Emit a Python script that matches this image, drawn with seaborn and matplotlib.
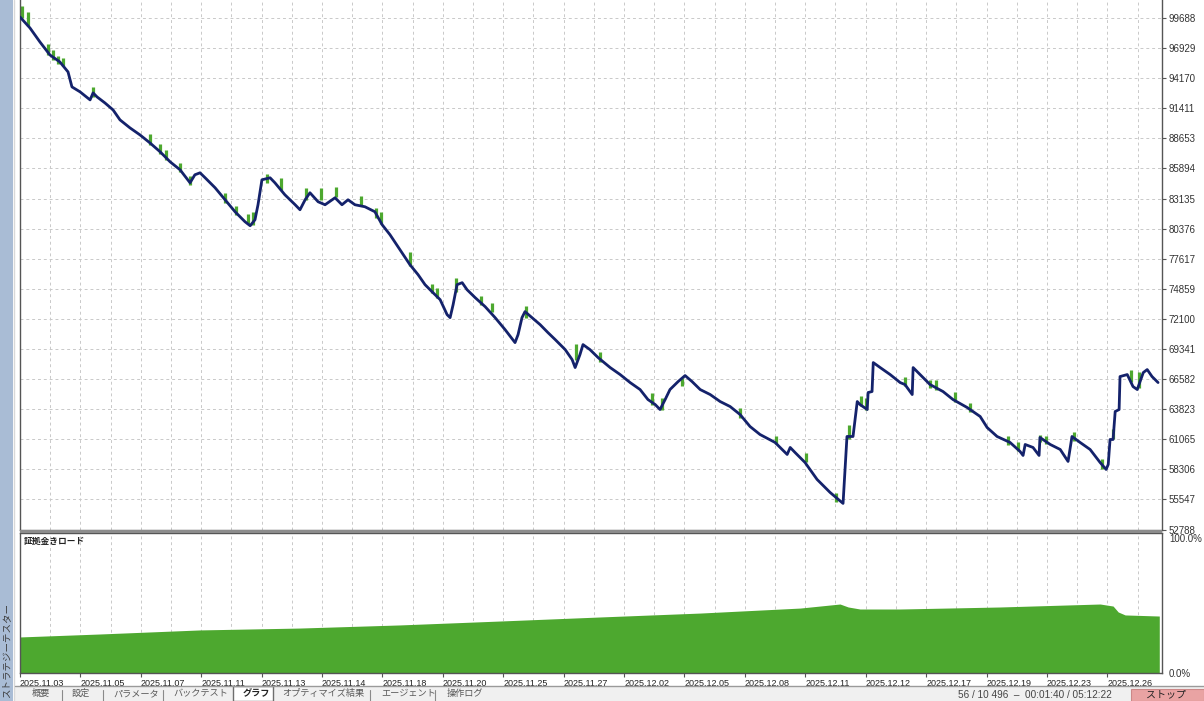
import numpy as np
import pandas as pd
import matplotlib
matplotlib.use("Agg")
import matplotlib.pyplot as plt
from matplotlib.patches import Rectangle
from matplotlib.lines import Line2D
import seaborn as sns

sns.set_style("white")
plt.rcParams["font.family"] = ["Liberation Sans", "Noto Sans CJK JP", "DejaVu Sans"]

W, H = 1204, 701

# balance curve (x in chart grid units, value in account currency)
bal_x = [0, 0.33, 0.66, 0.99, 1.32, 1.59, 1.72, 1.99, 2.32, 2.42,
         2.55, 2.81, 3.08, 3.31, 3.64, 3.97, 4.30, 4.64, 4.97, 5.30,
         5.63, 5.79, 5.96, 6.13, 6.46, 6.79, 7.12, 7.45, 7.62, 7.78,
         7.88, 8.01, 8.28, 8.44, 8.77, 9.11, 9.27, 9.44, 9.60, 9.87,
         10.10, 10.43, 10.66, 10.86, 11.09, 11.42, 11.75, 11.99, 12.25, 12.58,
         12.91, 13.18, 13.41, 13.64, 13.91, 14.14, 14.24, 14.34, 14.47, 14.64,
         14.80, 15.07, 15.40, 15.73, 16.06, 16.39, 16.49, 16.62, 16.72, 16.95,
         17.22, 17.48, 17.72, 18.05, 18.28, 18.38, 18.54, 18.64, 18.87, 19.14,
         19.54, 19.87, 20.20, 20.53, 20.79, 21.03, 21.19, 21.36, 21.52, 21.79,
         22.02, 22.25, 22.52, 22.85, 23.18, 23.51, 23.84, 24.17, 24.50, 25.00,
         25.40, 25.50, 25.66, 25.99, 26.39, 26.82, 27.25, 27.32, 27.38, 27.58,
         27.72, 27.81, 28.05, 28.08, 28.21, 28.25, 28.48, 28.81, 29.14, 29.30,
         29.54, 29.57, 29.80, 30.13, 30.56, 30.89, 31.36, 31.79, 32.02, 32.35,
         32.78, 33.11, 33.21, 33.28, 33.54, 33.74, 33.77, 34.11, 34.44, 34.70,
         34.83, 35.10, 35.43, 35.76, 35.96, 36.03, 36.09, 36.19, 36.26, 36.39,
         36.42, 36.66, 36.85, 36.99, 37.19, 37.32, 37.48, 37.68]
bal_v = [99779, 98772, 97490, 96300, 95658, 94743, 93369, 92911, 92178, 92819,
         92453, 91904, 91263, 90347, 89614, 88973, 88240, 87416, 86500, 85768,
         84577, 85310, 85493, 85035, 84119, 83020, 81921, 81006, 80639, 81189,
         82563, 84852, 85035, 84577, 83478, 82563, 82105, 83020, 83662, 82837,
         82563, 83204, 82563, 83020, 82563, 82379, 81921, 80731, 79815, 78441,
         77068, 76152, 75236, 74595, 73862, 72489, 72214, 73405, 75236, 75419,
         74778, 74046, 73221, 72214, 71115, 69924, 70657, 72214, 72763, 72214,
         71573, 70840, 70199, 69283, 68368, 67635, 68826, 69741, 69283, 68551,
         67635, 66994, 66261, 65620, 64704, 64247, 63789, 64704, 65620, 66353,
         66902, 66353, 65620, 65163, 64522, 64064, 63331, 62232, 61499, 60767,
         59668, 60309, 59851, 58935, 57378, 56188, 55180, 58569, 61316, 61316,
         64522, 64247, 63789, 65346, 65437, 68093, 67635, 66994, 66261, 66078,
         65163, 67635, 66994, 66078, 65437, 64704, 63972, 63148, 62140, 61316,
         60767, 59943, 59576, 60583, 60309, 59576, 61224, 60583, 60125, 59027,
         61316, 60767, 60125, 58935, 58294, 58752, 61041, 61041, 63606, 63789,
         66811, 66994, 65895, 65620, 67177, 67452, 66811, 66261]

# equity excursions above the balance line
spike_x = [0.07, 0.26, 0.93, 1.09, 1.26, 1.42, 2.42, 4.30, 4.64, 4.83,
           5.30, 5.63, 6.79, 7.15, 7.55, 7.72, 8.18, 8.64, 9.47, 9.97,
           10.46, 11.29, 11.79, 11.95, 12.91, 13.64, 13.81, 14.44, 15.26, 15.63,
           16.75, 18.41, 19.21, 20.93, 21.26, 21.92, 23.84, 25.03, 26.03, 27.02,
           27.45, 27.85, 28.01, 29.30, 30.13, 30.33, 30.96, 31.46, 32.72, 33.05,
           33.77, 33.97, 34.90, 35.83, 36.19, 36.79, 37.05]
spike_lo = [99688, 98955, 96299, 95841, 95475, 95292, 92453, 88057, 87233, 86683,
            85584, 84394, 82745, 81646, 80822, 80730, 84577, 83936, 83020, 83020,
            83295, 82470, 81371, 80822, 76976, 74504, 74046, 74595, 73404, 72763,
            72214, 68368, 68184, 64246, 63789, 65987, 63056, 60583, 58935, 55272,
            61041, 64154, 63789, 65987, 65803, 65620, 64522, 63606, 60492, 59943,
            60767, 60583, 60859, 58294, 61041, 66353, 65803]
spike_hi = [100787, 100237, 97307, 96757, 96208, 96024, 93369, 89064, 88148, 87599,
            86408, 85218, 83661, 82470, 81738, 81921, 85401, 85035, 84119, 84119,
            84211, 83386, 82287, 81921, 78258, 75328, 74962, 75877, 74229, 73587,
            73312, 69836, 69100, 65345, 64887, 66720, 63972, 61315, 59759, 56096,
            62415, 65070, 64887, 66811, 66536, 66536, 65437, 64429, 61315, 60767,
            61408, 61316, 61683, 59210, 61958, 67452, 67269]

# deposit load (%)
load_x = [0, 2.65, 5.96, 9.27, 12.58, 15.89, 19.21, 22.52, 25.83, 27.15,
          27.42, 27.81, 29.14, 32.45, 35.76, 36.19, 36.36, 36.59, 37.72]
load_pct = [26.7, 28.9, 31.9, 33.3, 35.6, 38.5, 41.5, 44.4, 48.1, 51.1,
            48.9, 47.4, 47.4, 48.9, 51.1, 49.6, 45.2, 43.0, 42.2]

y_ticks = [99688, 96929, 94170, 91411, 88653, 85894, 83135, 80376, 77617,
           74859, 72100, 69341, 66582, 63823, 61065, 58306, 55547, 52788]
date_labels = ["2025.11.03", "2025.11.05", "2025.11.07", "2025.11.11", "2025.11.13",
               "2025.11.14", "2025.11.18", "2025.11.20", "2025.11.25", "2025.11.27",
               "2025.12.02", "2025.12.05", "2025.12.08", "2025.12.11", "2025.12.12",
               "2025.12.17", "2025.12.19", "2025.12.23", "2025.12.26"]
tabs = ["概要", "設定", "パラメータ", "バックテスト", "グラフ", "オプティマイズ結果", "エージェント", "操作ログ"]
tab_left = [32, 72, 113, 173, 243, 282, 381, 447]


def fx(px):
    return px / W


def fy(py):
    return 1 - py / H


GREEN = "#4da82f"
NAVY = "#14226b"
GRID = dict(color="#c9c9c9", linestyle=(0, (3, 3)), linewidth=0.7)
X_MAX = 37.81

fig = plt.figure(figsize=(W / 100, H / 100), dpi=100, facecolor="white")

# ---- main balance / equity panel
ax = fig.add_axes([fx(20), fy(529.5), fx(1162) - fx(20), fy(0) - fy(529.5)])
ax.vlines(spike_x, spike_lo, spike_hi, color=GREEN, linewidth=2.3, zorder=2)
df = pd.DataFrame({"x": bal_x, "balance": bal_v})
sns.lineplot(data=df, x="x", y="balance", ax=ax, sort=False, estimator=None,
             color=NAVY, linewidth=2.0, zorder=3)
ax.set_xlim(0, X_MAX)
ax.set_ylim(52788, 101336)
ax.set_xticks(np.arange(0, 38, 1))
ax.set_yticks(y_ticks)
ax.set_yticklabels([str(v) for v in y_ticks])
ax.yaxis.tick_right()
ax.grid(True, **GRID)
ax.tick_params(axis="x", length=0, labelbottom=False)
ax.tick_params(axis="y", right=True, left=False, length=3, width=0.8, color="#555555",
               labelsize=7, labelcolor="#333333", pad=2)
ax.set_xlabel("")
ax.set_ylabel("")
ax.spines["top"].set_visible(False)
for s in ["left", "right", "bottom"]:
    ax.spines[s].set_color("#555555")
    ax.spines[s].set_linewidth(1.0)

# ---- deposit load panel
ax2 = fig.add_axes([fx(20), fy(673), fx(1162) - fx(20), fy(533) - fy(673)])
ax2.fill_between(load_x, 0, load_pct, color=GREEN, linewidth=0, zorder=2)
ax2.set_xlim(0, X_MAX)
ax2.set_ylim(0, 103.7)
label_pos = [2 * i for i in range(len(date_labels))]
ax2.set_xticks(label_pos)
ax2.set_xticks(np.arange(1, 38, 2), minor=True)
ax2.set_xticklabels(date_labels, ha="left")
ax2.set_yticks([0, 100])
ax2.set_yticklabels(["0.0%", "100.0%"])
ax2.yaxis.tick_right()
ax2.grid(True, axis="x", which="both", **GRID)
ax2.tick_params(axis="x", which="major", bottom=True, length=3, width=0.8, color="#555555",
                labelsize=6.5, labelcolor="#222222", pad=1.5)
ax2.tick_params(axis="x", which="minor", length=0)
ax2.tick_params(axis="y", right=True, left=False, length=0, labelsize=7,
                labelcolor="#333333", pad=5)
for s in ["left", "right", "bottom", "top"]:
    ax2.spines[s].set_color("#555555")
    ax2.spines[s].set_linewidth(1.0)
ax2.text(0.0035, 0.975, "証拠金きロード", transform=ax2.transAxes,
         fontsize=6.3, color="#222222", ha="left", va="top", fontweight="bold")

# ---- window chrome
fig.patches.append(Rectangle((fx(20), fy(533)), fx(1162) - fx(20), 3.5 / H,
                             transform=fig.transFigure, facecolor="#8c8c8c",
                             edgecolor="none", zorder=5))
fig.patches.append(Rectangle((0, 0), fx(13), 1, transform=fig.transFigure,
                             facecolor="#a9bcd5", edgecolor="none", zorder=0))
fig.lines.append(Line2D([fx(14), fx(14)], [0, 1], transform=fig.transFigure,
                        color="#d8d8d8", linewidth=1))
fig.text(fx(7), fy(603), "ストラテジーテスター", rotation=90, ha="center", va="top",
         fontsize=6.8, color="#3a3a3a")

# bottom tab strip
fig.patches.append(Rectangle((fx(15), 0), 1 - fx(15), 15 / H, transform=fig.transFigure,
                             facecolor="#f0f0f0", edgecolor="none", zorder=0))
fig.lines.append(Line2D([fx(15), 1], [fy(686), fy(686)], transform=fig.transFigure,
                        color="#9a9a9a", linewidth=1))
fig.patches.append(Rectangle((fx(233), 0), fx(40), 15.5 / H, transform=fig.transFigure,
                             facecolor="white", edgecolor="#6e6e6e", linewidth=1, zorder=1))
for name, left in zip(tabs, tab_left):
    active = name == "グラフ"
    fig.text(fx(left), fy(689), name, ha="left", va="top", fontsize=6.6,
             color="#222222" if active else "#5a5a5a",
             fontweight="bold" if active else "normal")
for sx in [62, 103, 163, 370, 435]:
    fig.lines.append(Line2D([fx(sx), fx(sx)], [0, fy(690)], transform=fig.transFigure,
                            color="#8a8a8a", linewidth=0.8))

fig.text(fx(958), fy(690), "56 / 10 496  –  00:01:40 / 05:12:22", ha="left", va="top",
         fontsize=7.2, color="#444444")
fig.patches.append(Rectangle((fx(1131), 0), fx(73), 12 / H, transform=fig.transFigure,
                             facecolor="#e9a3a3", edgecolor="#cc8888", linewidth=0.8, zorder=1))
fig.text(fx(1166), fy(689.5), "ストップ", ha="center", va="top", fontsize=7.2,
         color="#222222")

plt.savefig("out.png", dpi=100)
plt.close()
